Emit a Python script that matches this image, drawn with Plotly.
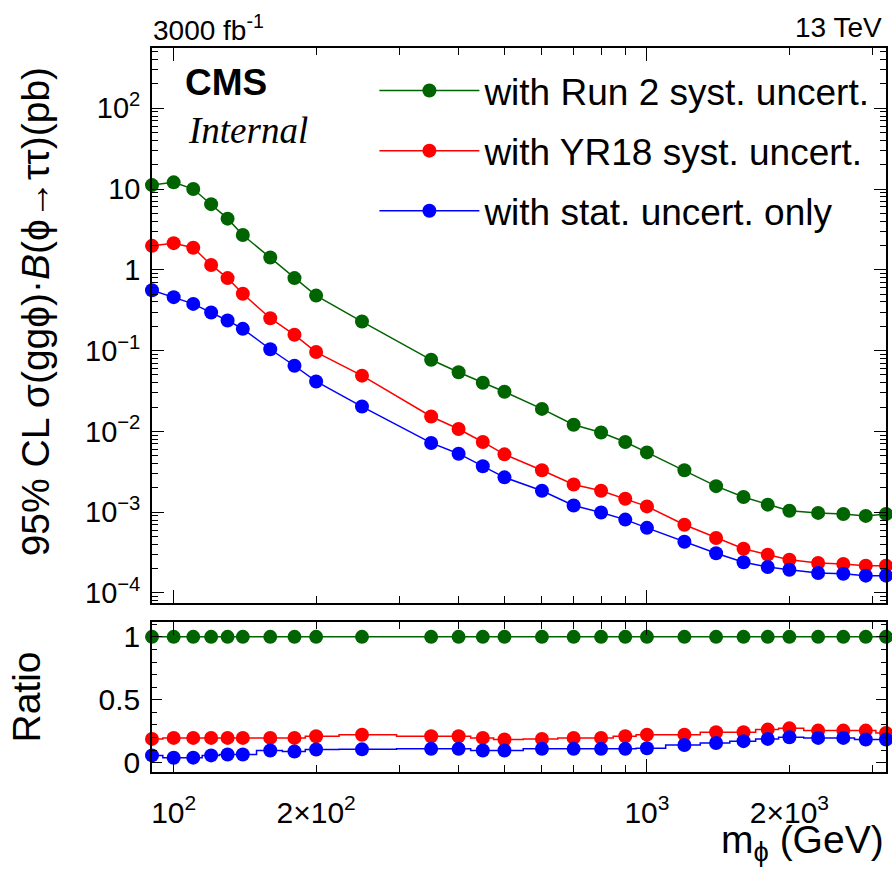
import math
import plotly.graph_objects as go

# ---------------- data ----------------
mass = [90, 100, 110, 120, 130, 140, 160, 180, 200, 250, 350, 400, 450, 500,
        600, 700, 800, 900, 1000, 1200, 1400, 1600, 1800, 2000, 2300, 2600,
        2900, 3200]

lim_run2 = [11.2, 12.1, 10.0, 6.5, 4.3, 2.7, 1.42, 0.79, 0.48, 0.229, 0.077,
            0.054, 0.040, 0.031, 0.019, 0.0121, 0.0097, 0.0074, 0.0055,
            0.0033, 0.0021, 0.00154, 0.00124, 0.00104, 0.00098, 0.00095,
            0.00090, 0.00095]
lim_yr18 = [1.98, 2.14, 1.88, 1.15, 0.79, 0.505, 0.252, 0.157, 0.096, 0.049,
            0.0153, 0.0107, 0.0074, 0.0052, 0.0033, 0.0022, 0.00184, 0.00147,
            0.00118, 0.00070, 0.00048, 0.000353, 0.000298, 0.000258,
            0.000235, 0.000229, 0.000218, 0.000218]
lim_stat = [0.56, 0.459, 0.379, 0.296, 0.236, 0.186, 0.104, 0.065, 0.0415,
            0.0203, 0.0072, 0.0053, 0.0037, 0.0027, 0.00184, 0.00121,
            0.00099, 0.00081, 0.00064, 0.00043, 0.00031, 0.00024, 0.00021,
            0.000194, 0.000177, 0.000173, 0.000164, 0.000164]

ratio_run2 = [1.0] * 28
ratio_yr18 = [0.189, 0.197, 0.197, 0.197, 0.197, 0.197, 0.197, 0.197, 0.21,
              0.222, 0.21, 0.21, 0.197, 0.184, 0.189, 0.197, 0.197, 0.21,
              0.223, 0.223, 0.242, 0.242, 0.263, 0.273, 0.255, 0.255, 0.255,
              0.236]
ratio_stat = [0.058, 0.039, 0.04, 0.058, 0.065, 0.065, 0.097, 0.089, 0.105,
              0.106, 0.11, 0.11, 0.097, 0.097, 0.11, 0.11, 0.11, 0.11, 0.115,
              0.141, 0.157, 0.171, 0.189, 0.202, 0.197, 0.197, 0.184, 0.184]

names = ["with Run 2 syst. uncert.", "with YR18 syst. uncert.",
         "with stat. uncert. only"]
colors = ["#006400", "#ff0000", "#0000ff"]

x_tickvals = [100, 200, 300, 400, 500, 600, 700, 800, 900, 1000, 2000, 3000]
x_ticktext = ["10<sup>2</sup>", "2×10<sup>2</sup>", "", "", "", "", "", "", "",
              "10<sup>3</sup>", "2×10<sup>3</sup>", ""]
x_long_ticks = [100, 1000]

FONT = "Liberation Sans, Arial, Helvetica, sans-serif"

# ---------------- figure ----------------
W, H = 892, 871
ML, MR, MT, MB = 152, 4, 48, 99
plot_h = H - MT - MB
top_bottom_px = 603
ratio_top_px = 622
y_top_domain = [(H - MB - top_bottom_px) / plot_h, 1.0]
y_rat_domain = [0.0, (H - MB - ratio_top_px) / plot_h]

fig = go.Figure()
for lim, rat, nm, col, grp in zip([lim_run2, lim_yr18, lim_stat],
                                  [ratio_run2, ratio_yr18, ratio_stat],
                                  names, colors, ["a", "b", "c"]):
    fig.add_trace(go.Scatter(
        x=mass, y=lim, mode="lines+markers", name=nm, legendgroup=grp,
        line=dict(color=col, width=1.5),
        marker=dict(color=col, size=14, symbol="circle"),
        cliponaxis=False, xaxis="x", yaxis="y"))
    fig.add_trace(go.Scatter(
        x=mass, y=rat, mode="lines+markers", name=nm, legendgroup=grp,
        showlegend=False,
        line=dict(color=col, width=1.5, shape="hvh"),
        marker=dict(color=col, size=14, symbol="circle"),
        cliponaxis=False, xaxis="x2", yaxis="y2"))

xr = [math.log10(90), math.log10(3200)]
common_x = dict(
    type="log", range=xr, showgrid=False, zeroline=False,
    showline=True, linecolor="black", linewidth=1.6, mirror="ticks",
    ticks="inside", ticklen=7, tickwidth=1.2, tickcolor="black",
    tickmode="array", tickvals=x_tickvals, ticktext=x_ticktext,
    minor=dict(tickmode="array", tickvals=x_long_ticks, ticklen=13,
               tickwidth=1.2, tickcolor="black", ticks="inside",
               showgrid=False),
)

y_minor = [m * 10 ** e for e in range(-5, 3) for m in range(2, 10)]

fig.update_layout(
    width=W, height=H,
    margin=dict(l=ML, r=MR, t=MT, b=MB, pad=0),
    paper_bgcolor="white", plot_bgcolor="white",
    font=dict(family=FONT, color="black", size=28),
    showlegend=True,
    legend=dict(x=(375 - ML) / (W - ML - MR), xanchor="left",
                y=(H - MB - 60) / plot_h, yanchor="top",
                bgcolor="rgba(0,0,0,0)", borderwidth=0,
                font=dict(family=FONT, size=37, color="black"),
                itemwidth=100, tracegroupgap=9),
    xaxis=dict(common_x, domain=[0, 1], anchor="y", showticklabels=False,
               matches="x2"),
    xaxis2=dict(common_x, domain=[0, 1], anchor="y2", showticklabels=True,
                ticklabelstandoff=13,
                tickfont=dict(family=FONT, size=30)),
    yaxis=dict(
        type="log", domain=y_top_domain, anchor="x",
        range=[-4.124, 2.746], showgrid=False, zeroline=False,
        showline=True, linecolor="black", linewidth=1.6, mirror="ticks",
        ticks="inside", ticklen=12, tickwidth=1.2, tickcolor="black",
        tickmode="array", tickvals=[1e-4, 1e-3, 1e-2, 1e-1, 1, 10, 100],
        ticktext=["10<sup>−4</sup>", "10<sup>−3</sup>", "10<sup>−2</sup>",
                  "10<sup>−1</sup>", "1", "10", "10<sup>2</sup>"],
        tickfont=dict(family=FONT, size=29), ticklabelstandoff=4,
        minor=dict(tickmode="array", tickvals=y_minor, ticklen=6,
                   tickwidth=1.2, tickcolor="black", ticks="inside",
                   showgrid=False),
    ),
    yaxis2=dict(
        domain=y_rat_domain, anchor="x2",
        range=[-0.074, 1.118], showgrid=False, zeroline=False,
        showline=True, linecolor="black", linewidth=1.6, mirror="ticks",
        ticks="inside", ticklen=10, tickwidth=1.2, tickcolor="black",
        tickmode="array", tickvals=[0, 0.5, 1], ticktext=["0", "0.5", "1"],
        tickfont=dict(family=FONT, size=30), ticklabelstandoff=4,
        minor=dict(tickmode="array",
                   tickvals=[0.1, 0.2, 0.3, 0.4, 0.6, 0.7, 0.8, 0.9, 1.1],
                   ticklen=5, tickwidth=1.2, tickcolor="black",
                   ticks="inside", showgrid=False),
        title=dict(text="Ratio", font=dict(family=FONT, size=39),
                   standoff=46),
    ),
)


def px(xp):
    return (xp - ML) / (W - ML - MR)


def py(yp):
    return (H - MB - yp) / plot_h


fig.add_annotation(text="95% CL σ(ggϕ)·<i>B</i>(ϕ→ττ)(pb)",
                   xref="paper", yref="paper", x=px(36), y=py(312),
                   xanchor="center", yanchor="middle", textangle=-90,
                   showarrow=False, font=dict(family=FONT, size=39))
fig.add_annotation(text="3000 fb<sup>-1</sup>", xref="paper", yref="paper",
                   x=px(151), y=py(28), xanchor="left", yanchor="middle",
                   showarrow=False, font=dict(family=FONT, size=28))
fig.add_annotation(text="13 TeV", xref="paper", yref="paper",
                   x=px(886), y=py(28), xanchor="right", yanchor="middle",
                   showarrow=False, font=dict(family=FONT, size=28))
fig.add_annotation(text="<b>CMS</b>", xref="paper", yref="paper",
                   x=px(183), y=py(82), xanchor="left", yanchor="middle",
                   showarrow=False, font=dict(family=FONT, size=37))
fig.add_annotation(text="<i>Internal</i>", xref="paper", yref="paper",
                   x=px(186), y=py(130), xanchor="left", yanchor="middle",
                   showarrow=False,
                   font=dict(family="Liberation Serif, Times New Roman, serif",
                             size=37))
fig.add_annotation(text="m<sub>ϕ</sub> (GeV)", xref="paper", yref="paper",
                   x=px(888), y=py(842), xanchor="right", yanchor="middle",
                   showarrow=False, font=dict(family=FONT, size=39))

fig.write_html("out.html")
